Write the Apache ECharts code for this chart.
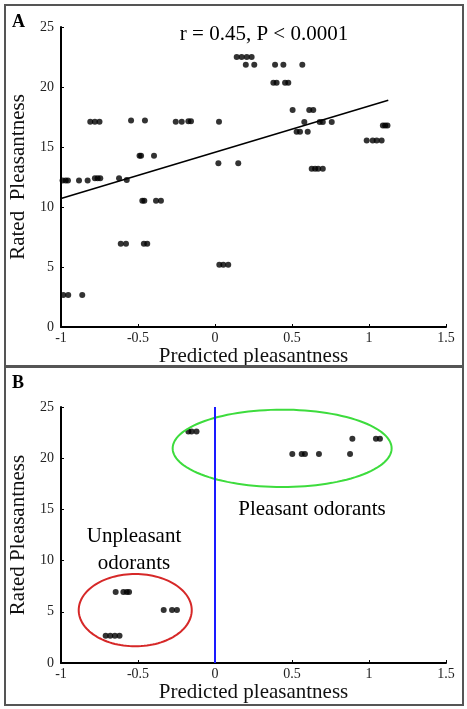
<!DOCTYPE html>
<html>
<head>
<meta charset="utf-8">
<script src="https://cdn.jsdelivr.net/npm/echarts@6/dist/echarts.min.js"></script>
<style>html,body{margin:0;padding:0;background:#fff;}#c{width:467px;height:709px;}</style>
</head>
<body>
<div id="c"></div>
<script>
// Panel A data
const predictedA = [-0.99,-0.97,-0.955,-0.883,-0.827,
  -0.78,-0.762,-0.745,-0.623,-0.573,
  -0.81,-0.78,-0.75,-0.545,-0.455,-0.255,-0.216,-0.173,-0.156,0.026,
  -0.49,-0.48,-0.396,
  0.022,0.151,
  0.141,0.173,0.206,0.238,
  0.2,0.255,0.39,0.444,0.567,
  0.379,0.40,0.455,0.476,
  0.504,0.612,0.638,
  0.58,0.68,0.70,0.758,
  0.53,0.552,0.602,
  0.985,1.024,1.05,1.082,
  1.09,1.105,1.12,
  0.628,0.65,0.67,0.70,
  -0.472,-0.459,-0.383,-0.351,
  -0.612,-0.578,-0.462,-0.44,
  0.028,0.054,0.086,
  -0.985,-0.953,-0.862];
const ratedA = [12.2,12.2,12.2,12.2,12.2,
  12.4,12.4,12.4,12.4,12.25,
  17.1,17.1,17.1,17.2,17.2,17.1,17.1,17.15,17.15,17.1,
  14.27,14.27,14.27,
  13.64,13.64,
  22.5,22.5,22.5,22.5,
  21.86,21.86,21.86,21.86,21.86,
  20.36,20.36,20.36,20.36,
  18.08,18.08,18.08,
  17.08,17.08,17.08,17.08,
  16.27,16.27,16.27,
  15.55,15.55,15.55,15.55,
  16.8,16.8,16.8,
  13.19,13.19,13.19,13.19,
  10.53,10.53,10.53,10.53,
  6.94,6.94,6.94,6.94,
  5.19,5.19,5.19,
  2.66,2.66,2.66];
const fitX = [-1, 1.125];
const fitY = [10.7, 18.9];
const statText = 'r = 0.45, P < 0.0001';

// Panel B data
const predictedB = [-0.173,-0.152,-0.12,
  0.892,1.045,1.071,
  0.502,0.563,0.584,0.675,0.877,
  -0.645,-0.595,-0.573,-0.558,
  -0.333,-0.279,-0.247,
  -0.71,-0.68,-0.65,-0.62];
const ratedB = [22.6,22.6,22.6,
  21.9,21.9,21.9,
  20.4,20.4,20.4,20.4,20.4,
  6.93,6.93,6.93,6.93,
  5.18,5.18,5.18,
  2.67,2.67,2.67,2.67];
const dividerX = 0;
const groupNames = ['Pleasant odorants', 'Unpleasant\nodorants'];
const ellipseCX = [0.436, -0.518];
const ellipseCY = [20.96, 5.16];
const ellipseRX = [0.711, 0.367];
const ellipseRY = [3.78, 3.53];

const xTicks = ['-1','-0.5','0','0.5','1','1.5'];
const xName = 'Predicted pleasantness';
const yNameA = 'Rated  Pleasantness';
const yNameB = 'Rated Pleasantness';

const FONT = '"Liberation Serif", "Times New Roman", serif';
const ellipseColors = ['#3ddc3d', '#d62828'];

function makeX(gridIndex, gap) {
  return {
    gridIndex, type: 'value', min: -1, max: 1.5, interval: 0.5,
    name: xName, nameLocation: 'middle', nameGap: gap,
    nameTextStyle: {fontFamily: FONT, fontSize: 21, color: '#111'},
    axisLine: {onZero: false, lineStyle: {color: '#000', width: 2}},
    axisTick: {inside: true, length: 3, lineStyle: {color: '#000'}},
    axisLabel: {fontFamily: FONT, fontSize: 14, color: '#222', margin: 4,
      formatter: v => xTicks[Math.round((v + 1) / 0.5)]},
    splitLine: {show: false}
  };
}
function makeY(gridIndex, name) {
  return {
    gridIndex, type: 'value', min: 0, max: 25, interval: 5,
    name: name, nameLocation: 'middle', nameGap: 25,
    nameTextStyle: {fontFamily: FONT, fontSize: 21, color: '#111'},
    axisLine: {show: true, onZero: false, lineStyle: {color: '#000', width: 2}},
    axisTick: {show: true, inside: true, length: 3, lineStyle: {color: '#000'}},
    axisLabel: {fontFamily: FONT, fontSize: 14, color: '#222', margin: 7},
    splitLine: {show: false}
  };
}

const chart = echarts.init(document.getElementById('c'), null, {renderer: 'canvas'});
chart.setOption({
  animation: false,
  backgroundColor: '#fff',
  grid: [
    {left: 61, top: 27, width: 385, height: 300},
    {left: 61, top: 407, width: 385, height: 256}
  ],
  xAxis: [makeX(0, 14), makeX(1, 16)],
  yAxis: [makeY(0, yNameA), makeY(1, yNameB)],
  graphic: [
    {type: 'rect', shape: {x: 5, y: 5, width: 458, height: 361}, style: {fill: 'none', stroke: '#555', lineWidth: 2}, z: 100},
    {type: 'rect', shape: {x: 5, y: 367, width: 458, height: 338}, style: {fill: 'none', stroke: '#555', lineWidth: 2}, z: 100},
    {type: 'text', left: 12, top: 13, style: {text: 'A', font: 'bold 18px ' + FONT, fill: '#000'}},
    {type: 'text', left: 12, top: 374, style: {text: 'B', font: 'bold 18px ' + FONT, fill: '#000'}},
    {type: 'text', x: 264, y: 34, style: {text: statText, font: '21px ' + FONT, fill: '#000', align: 'center', verticalAlign: 'middle'}},
    {type: 'text', x: 312, y: 509, style: {text: groupNames[0], font: '21px ' + FONT, fill: '#000', align: 'center', verticalAlign: 'middle'}},
    {type: 'text', x: 134, y: 550, style: {text: groupNames[1], font: '21px ' + FONT, fill: '#000', align: 'center', verticalAlign: 'middle', lineHeight: 27}}
  ],
  series: [
    {
      type: 'scatter', xAxisIndex: 0, yAxisIndex: 0,
      data: predictedA.map((x, i) => [x, ratedA[i]]),
      symbolSize: 6, itemStyle: {color: '#000'}, z: 3
    },
    {
      type: 'line', xAxisIndex: 0, yAxisIndex: 0,
      data: fitX.map((x, i) => [x, fitY[i]]),
      symbol: 'none', lineStyle: {color: '#000', width: 1.6}, z: 2
    },
    {
      type: 'scatter', xAxisIndex: 1, yAxisIndex: 1,
      data: predictedB.map((x, i) => [x, ratedB[i]]),
      symbolSize: 6, itemStyle: {color: '#000'}, z: 3,
      markLine: {
        silent: true, symbol: 'none', label: {show: false},
        lineStyle: {color: '#1a1aff', width: 2, type: 'solid'},
        data: [{xAxis: dividerX}]
      }
    },
    {
      type: 'custom', xAxisIndex: 1, yAxisIndex: 1, z: 4,
      data: ellipseCX.map((x, i) => [x, ellipseCY[i], ellipseRX[i], ellipseRY[i], i]),
      renderItem: function (params, api) {
        const c = api.coord([api.value(0), api.value(1)]);
        const s = api.size([api.value(2), api.value(3)]);
        const pts = [];
        for (let k = 0; k < 120; k++) {
          const t = k / 120 * Math.PI * 2;
          pts.push([c[0] + s[0] * Math.cos(t), c[1] + s[1] * Math.sin(t)]);
        }
        return {
          type: 'polygon', shape: {points: pts},
          style: {fill: 'none', stroke: ellipseColors[api.value(4)], lineWidth: 2}
        };
      }
    }
  ]
});
</script>
</body>
</html>
